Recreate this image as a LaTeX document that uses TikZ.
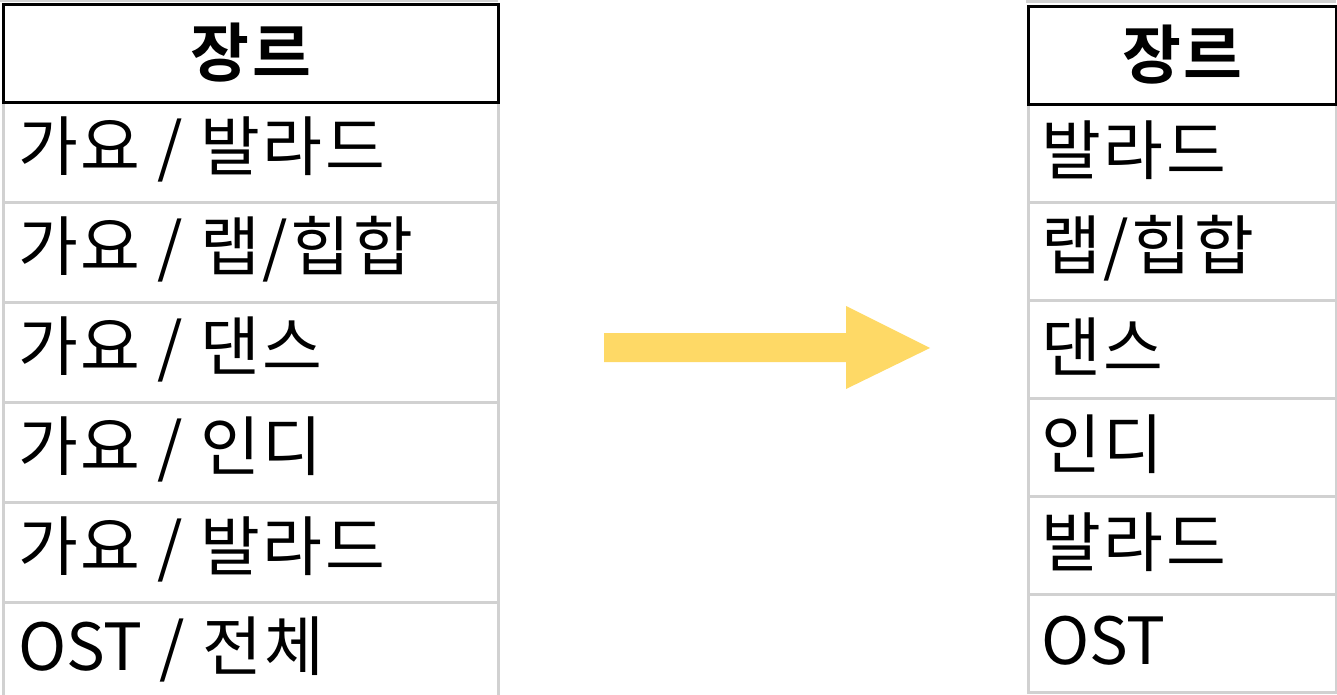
\documentclass[tikz,border=0pt]{standalone}
\usepackage{fontspec}
\newfontfamily\kr[LetterSpace=4]{Noto Sans CJK KR}
\newfontfamily\krn{Noto Sans CJK KR}
\newfontfamily\krb[LetterSpace=4]{Noto Sans CJK KR Bold}
\tikzset{
  gridline/.style={draw=black!18, line width=3pt},
  cell/.style={gridline, rectangle, inner sep=0pt, anchor=north west},
  hdr/.style={draw=black, line width=3pt, rectangle, inner sep=0pt, anchor=north west, fill=white},
  ctext/.style={anchor=west, inner sep=0pt, font=\kr\fontsize{65}{65}\selectfont},
  htext/.style={inner sep=0pt, font=\krb\fontsize{64}{64}\selectfont},
  bigarrow/.style={fill=yellowA, draw=none}
}
\definecolor{yellowA}{HTML}{FED966}
\begin{document}
\begin{tikzpicture}[x=1pt,y=-1pt]
\useasboundingbox (0,0) rectangle (1337,695);
% previous row border lines
\draw[gridline] (0,1) -- (498,1);
\draw[gridline] (1026,2) -- (1336,2);
% left table
\foreach \i/\t in {1/101,2/201,3/301,4/401,5/501}{
  \node[cell, minimum width=495pt, minimum height=100pt] (L\i) at (2,\t) {};
}
\node[cell, minimum width=495pt, minimum height=100pt] (L6) at (2,601) {};
\node[hdr, minimum width=495pt, minimum height=98pt] (LH) at (2,3) {};
\node[htext] (LHt) at ([yshift=1pt]LH.center) {장르};
\node[ctext] (L1t) at ([xshift=16pt,yshift=3pt]L1.west) {가요 / 발라드};
\node[ctext] (L2t) at ([xshift=16pt,yshift=3pt]L2.west) {가요 / 랩/힙합};
\node[ctext] (L3t) at ([xshift=16pt,yshift=3pt]L3.west) {가요 / 댄스};
\node[ctext] (L4t) at ([xshift=16pt,yshift=3pt]L4.west) {가요 / 인디};
\node[ctext] (L5t) at ([xshift=16pt,yshift=3pt]L5.west) {가요 / 발라드};
\node[ctext] (L6t) at ([xshift=16pt,yshift=3pt]L6.west) {{\krn OST} / 전체};
% right table
\foreach \i/\t in {1/103,2/201,3/299,4/397,5/495,6/593}{
  \node[cell, minimum width=308pt, minimum height=98pt] (R\i) at (1027,\t) {};
}
\node[hdr, minimum width=308pt, minimum height=98pt] (RH) at (1027,5) {};
\node[htext] (RHt) at ([yshift=1pt]RH.center) {장르};
\node[ctext] (R1t) at ([xshift=14pt,yshift=3pt]R1.west) {발라드};
\node[ctext] (R2t) at ([xshift=14pt,yshift=3pt]R2.west) {랩/힙합};
\node[ctext] (R3t) at ([xshift=14pt,yshift=3pt]R3.west) {댄스};
\node[ctext] (R4t) at ([xshift=14pt,yshift=3pt]R4.west) {인디};
\node[ctext] (R5t) at ([xshift=14pt,yshift=3pt]R5.west) {발라드};
\node[ctext] (R6t) at ([xshift=14pt,yshift=3pt]R6.west) {\krn OST};
% arrow
\fill[bigarrow] (604,333) -- (846,333) -- (846,306) -- (930,348) -- (846,389) -- (846,362) -- (604,362) -- cycle;
\end{tikzpicture}
\end{document}
